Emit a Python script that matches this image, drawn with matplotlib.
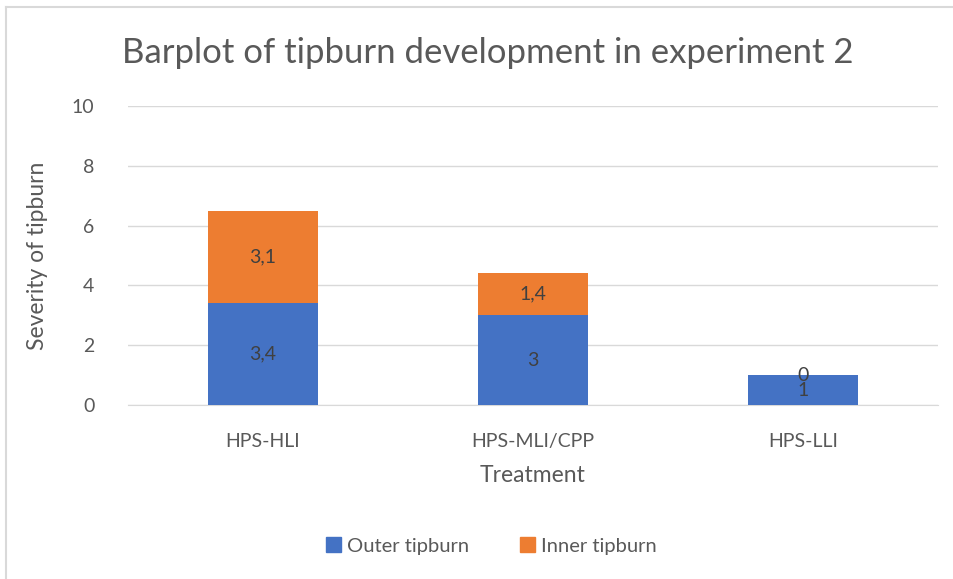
import matplotlib.pyplot as plt
from matplotlib.lines import Line2D
import numpy as np

plt.rcParams['font.family'] = ['Lato', 'DejaVu Sans']

treatments = ['HPS-HLI', 'HPS-MLI/CPP', 'HPS-LLI']
outer = [3.4, 3.0, 1.0]
inner = [3.1, 1.4, 0.0]
series_names = ['Outer tipburn', 'Inner tipburn']

blue = '#4472C4'
orange = '#ED7D31'
grey = '#595959'

fig = plt.figure(figsize=(9.54, 5.79), dpi=100)
ax = fig.add_axes([0.134, 0.3005, 0.849, 0.5165])

x = np.arange(len(treatments))
b1 = ax.bar(x, outer, width=0.407, color=blue, label=series_names[0], zorder=3)
b2 = ax.bar(x, inner, width=0.407, bottom=outer, color=orange, label=series_names[1], zorder=3)

def fmt(v):
    return ('%g' % v).replace('.', ',')

# in the reference the "0" and "1" labels of HPS-LLI overlap, kept as is
ax.bar_label(b1, labels=[fmt(v) for v in outer], label_type='center',
             fontsize=14, color='#404040')
ax.bar_label(b2, labels=[fmt(v) for v in inner], label_type='center',
             fontsize=14, color='#404040')

ax.set_xlim(-0.5, 2.5)
ax.set_ylim(0, 10)
ax.set_yticks(range(0, 11, 2))
ax.set_xticks(x)
ax.set_xticklabels(treatments)
ax.grid(axis='y', color='#D9D9D9', linewidth=1, zorder=0)
for s in ['top', 'right', 'left']:
    ax.spines[s].set_visible(False)
ax.spines['bottom'].set_color('#D9D9D9')
ax.tick_params(axis='both', length=0, labelsize=14, colors=grey)
ax.tick_params(axis='x', pad=20)
ax.tick_params(axis='y', pad=24)

ax.set_xlabel('Treatment', fontsize=16.5, color=grey, labelpad=11)
ax.set_ylabel('Severity of tipburn', fontsize=16.5, color=grey, labelpad=17)
fig.text(0.511, 0.908, 'Barplot of tipburn development in experiment 2',
         ha='center', va='center', fontsize=25, color=grey)

handles = [plt.Rectangle((0, 0), 1, 1, color=blue), plt.Rectangle((0, 0), 1, 1, color=orange)]
fig.legend(handles, series_names, loc='center', bbox_to_anchor=(0.515, 0.057),
           ncol=2, frameon=False, fontsize=14.5, handlelength=0.75, handleheight=0.75,
           handletextpad=0.3, columnspacing=2.5, labelcolor=grey)

# chart-area border (left and top only visible)
fig.add_artist(Line2D([0.0068, 0.0068], [0, 0.988], color='#D9D9D9', linewidth=1.5,
                      transform=fig.transFigure))
fig.add_artist(Line2D([0.0068, 1], [0.988, 0.988], color='#D9D9D9', linewidth=1.5,
                      transform=fig.transFigure))

fig.savefig('out.png', dpi=100)
